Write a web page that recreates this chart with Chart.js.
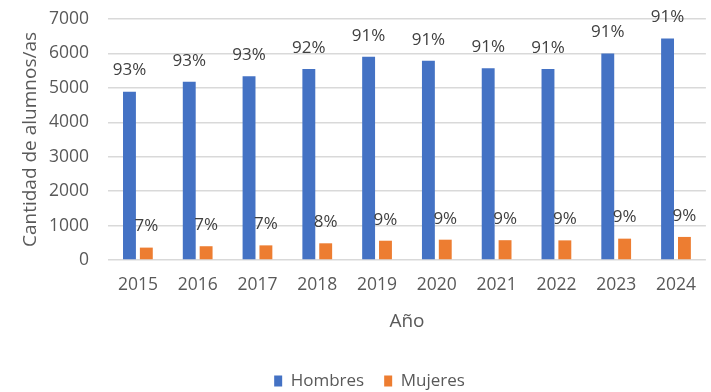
<!DOCTYPE html>
<html lang="es">
<head>
  <meta charset="UTF-8">
  <title>Alumnos por año</title>
  <script src="https://cdn.jsdelivr.net/npm/chart.js"></script>
  <style>
    body {
      margin: 0;
      background: #fff;
    }
    .chart-box {
      width: 711px;
      height: 392px;
    }
  </style>
</head>
<body>
  <div class="chart-box">
    <canvas id="alumnosChart"></canvas>
  </div>

  <script>
    const years = ["2015", "2016", "2017", "2018", "2019", "2020", "2021", "2022", "2023", "2024"];
    const hombres = [4890, 5180, 5340, 5550, 5905, 5790, 5570, 5550, 6000, 6430];
    const mujeres = [360, 400, 425, 485, 560, 590, 575, 570, 620, 670];

    const textColor = "#595959";
    const font = "'Open Sans', sans-serif";

    // share of each group within its year, shown over every bar
    function pct(value, i) {
      return Math.round(value / (hombres[i] + mujeres[i]) * 100) + "%";
    }

    const barLabels = {
      id: "barLabels",
      afterDatasetsDraw(chart) {
        const ctx = chart.ctx;
        ctx.save();
        ctx.font = "17px " + font;
        ctx.fillStyle = "#404040";
        ctx.textAlign = "center";
        ctx.textBaseline = "middle";
        chart.data.datasets.forEach((ds, d) => {
          chart.getDatasetMeta(d).data.forEach((bar, i) => {
            ctx.fillText(pct(ds.data[i], i), bar.x, bar.y - 21);
          });
        });
        ctx.restore();
      }
    };

    // nudge the legend a bit to the right
    const legendShift = {
      id: "legendShift",
      afterLayout(chart) {
        chart.legend.left += 14;
        chart.legend.right += 14;
      }
    };

    new Chart(document.getElementById("alumnosChart"), {
      type: "bar",
      data: {
        labels: years,
        datasets: [
          {
            label: "Hombres",
            data: hombres,
            backgroundColor: "#4472C4",
            barPercentage: 0.765,
            categoryPercentage: 0.564
          },
          {
            label: "Mujeres",
            data: mujeres,
            backgroundColor: "#ED7D31",
            barPercentage: 0.765,
            categoryPercentage: 0.564
          }
        ]
      },
      options: {
        responsive: true,
        maintainAspectRatio: false,
        animation: false,
        layout: { padding: { top: 19, right: 0, bottom: -7.5, left: 0 } },
        plugins: {
          tooltip: { enabled: false },
          legend: {
            position: "bottom",
            labels: {
              color: textColor,
              font: { family: font, size: 17 },
              boxWidth: 8,
              boxHeight: 11,
              padding: 20
            }
          }
        },
        scales: {
          x: {
            grid: { display: false, drawTicks: false },
            border: { display: false },
            ticks: {
              color: textColor,
              font: { family: font, size: 17.5 },
              padding: 15,
              maxRotation: 0
            },
            title: {
              display: true,
              text: "Año",
              color: textColor,
              font: { family: font, size: 19 },
              padding: { top: 0, bottom: 20 }
            },
            afterFit(scale) { scale.height = 92.5; }
          },
          y: {
            min: 0,
            max: 7000,
            ticks: {
              stepSize: 1000,
              color: textColor,
              font: { family: font, size: 17.5 },
              padding: 0,
              callback: value => String(value)
            },
            grid: {
              color: "#D9D9D9",
              lineWidth: 1.5,
              drawTicks: true,
              tickLength: 19,
              tickColor: "transparent"
            },
            border: { display: false },
            title: {
              display: true,
              text: "Cantidad de alumnos/as",
              color: textColor,
              font: { family: font, size: 19 },
              padding: { top: 19, bottom: 0 }
            },
            afterFit(scale) { scale.width = 108; }
          }
        }
      },
      plugins: [barLabels, legendShift]
    });
  </script>
</body>
</html>
